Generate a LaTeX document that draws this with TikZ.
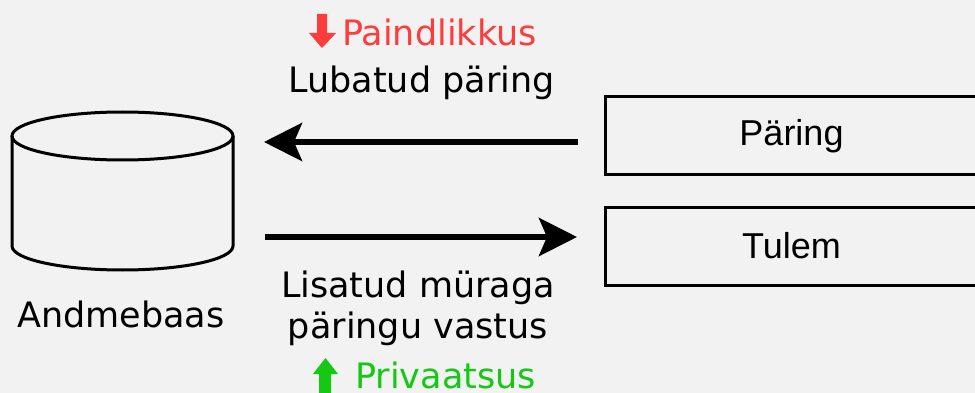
\documentclass[tikz,border=0pt]{standalone}
\usepackage{fontspec}
\setmainfont{DejaVu Sans}
\newfontfamily\boxfont{Liberation Sans}
\usetikzlibrary{arrows.meta}
\definecolor{bgcol}{HTML}{F2F2F2}
\definecolor{lossred}{HTML}{FF3B3B}
\definecolor{gaingreen}{HTML}{14C814}
\tikzset{
  label text/.style={anchor=base, inner sep=0pt, font=\fontsize{35}{42}\selectfont},
  datafield/.style={draw, line width=3pt, minimum width=373pt, minimum height=78pt,
    inner sep=0pt, font=\boxfont\fontsize{36}{42}\selectfont},
  flow/.style={line width=6pt, -{Stealth[length=38pt, width=38pt, inset=8pt]}},
  db line/.style={line width=3pt},
}
\begin{document}
\begin{tikzpicture}[x=1pt, y=-1pt]
  \fill[bgcol] (0,0) rectangle (975,393);
  \useasboundingbox (0,0) rectangle (975,393);

  % database cylinder
  \draw[db line] (122.5,136) ellipse [x radius=110.5pt, y radius=24pt];
  \draw[db line] (12,136) -- (12,246)
    arc[start angle=180, end angle=360, x radius=110.5pt, y radius=24pt]
    -- (233,136);
  \node[label text] (db) at (121,327) {Andmebaas};

  % query and result boxes
  \node[datafield] (query) at (791.5,136) {Päring};
  \node[datafield] (result) at (791.5,246) {Tulem};

  % flow arrows
  \coordinate (qout) at (578,142);
  \coordinate (qin) at (264,142);
  \coordinate (rout) at (265,237);
  \coordinate (rin) at (577,237);
  \draw[flow] (qout) -- (qin);
  \draw[flow] (rout) -- (rin);

  % labels above the query arrow
  \fill[lossred] (317,14) -- (327,14) -- (327,33) -- (336,33) -- (322,48)
    -- (309,33) -- (317,33) -- cycle;
  \node[label text, anchor=base west, text=lossred] (flex) at (342,46) {Paindlikkus};
  \node[label text] (allowed) at (421.5,93) {Lubatud päring};

  % labels below the result arrow
  \node[label text] (noisy1) at (418,297) {Lisatud müraga};
  \node[label text] (noisy2) at (418,338) {päringu vastus};
  \fill[gaingreen] (319,393) -- (319,374) -- (313,374) -- (325.5,358)
    -- (338,374) -- (331,374) -- (331,393) -- cycle;
  \node[label text, anchor=base west, text=gaingreen] (priv) at (355,388) {Privaatsus};
\end{tikzpicture}
\end{document}
